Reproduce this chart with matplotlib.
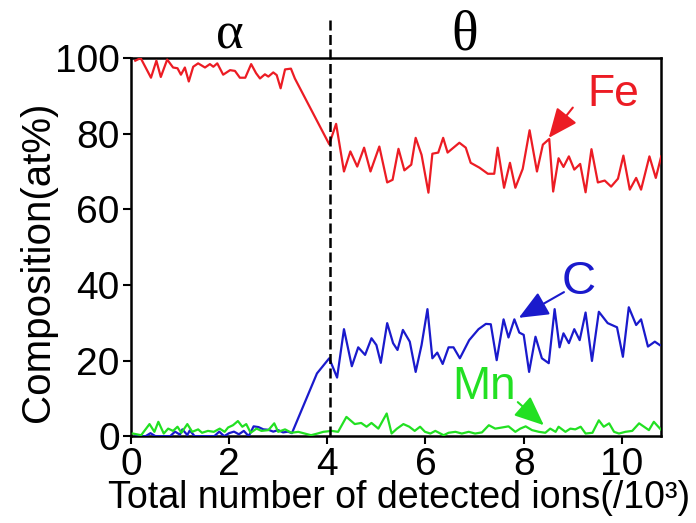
import matplotlib
matplotlib.use("Agg")
import matplotlib.pyplot as plt

fe_x = [0.09,0.2,0.41,0.52,0.61,0.74,0.86,0.95,1.02,1.1,1.18,1.27,1.37,1.51,1.61,1.68,1.76,1.88,2.02,2.12,
        2.22,2.33,2.45,2.55,2.63,2.73,2.8,2.9,2.97,3.05,3.14,3.26,3.34,4.04,4.18,4.34,4.47,4.61,4.75,4.88,
        5.06,5.22,5.33,5.45,5.57,5.71,5.8,5.92,6.06,6.14,6.26,6.36,6.45,6.57,6.69,6.82,6.92,7.1,7.27,7.4,
        7.47,7.6,7.72,7.83,7.98,8.12,8.27,8.39,8.52,8.6,8.71,8.81,8.92,9.03,9.15,9.26,9.38,9.51,9.65,9.78,
        9.92,10.03,10.16,10.29,10.39,10.56,10.69,10.8]
fe_y = [99.3,100,94.8,99.3,95,99.6,97.5,97.3,95.6,97.5,93.8,97.7,98.6,97.5,98.4,97.7,98.6,95.6,96.8,96.6,
        94.8,94.8,98.4,96,94.6,95.7,95.1,96.2,95.5,92,97,97.2,94.6,77.2,82.6,70,75.3,71.3,76.3,70,
        76.6,67.1,67.8,76,70.3,71.8,78.9,74.4,64.4,74.7,75,78.9,75,76.3,77.6,76.3,72.3,71,69.4,69.4,
        76.3,65.7,72.3,65.7,70.7,80.9,70,77.1,78.6,64.7,73.5,71.2,74,70.5,72,64.5,75.9,67.1,67.6,66,
        68.1,74.2,65.2,68.3,65.2,74,68.3,74]

c_x = [0.1,0.2,0.3,0.4,0.5,0.6,0.7,0.8,0.9,1.0,1.05,1.15,1.2,1.3,1.4,1.5,1.6,1.7,1.8,1.9,
       2.0,2.1,2.2,2.3,2.4,2.5,2.6,2.7,2.8,2.9,3.0,3.1,3.2,3.28,
       3.79,4.04,4.2,4.34,4.5,4.63,4.77,4.9,5.0,5.09,5.22,5.34,5.43,5.54,5.68,5.8,5.92,6.04,6.14,6.24,
       6.35,6.47,6.57,6.7,6.89,7.08,7.23,7.33,7.45,7.59,7.69,7.81,7.91,8.0,8.11,8.24,8.37,8.51,8.63,8.73,
       8.81,8.92,9.03,9.14,9.26,9.39,9.53,9.71,9.9,10.02,10.14,10.29,10.39,10.53,10.67,10.77]
c_y = [0,0,0,0.8,0,0,0,0,1.2,0.4,1.8,0.3,1.5,0,0,0,0,0,1.2,0,
       0.8,1.2,0.5,1.4,0,2.6,2.4,1.8,1.7,1.2,1.6,1.0,1.2,0.8,
       16.6,20.6,15.5,28.3,18.5,23.5,21.5,25.9,24.1,19.4,29.9,24.6,22.8,28.1,25,17,24.1,33.6,20.6,22.1,
       19.1,23.5,23.5,20.6,25.4,28.3,29.7,29.6,20.1,30.9,26.1,30.9,27.4,26.8,17,26.3,20.6,19.3,33.6,23.5,
       27.2,24.6,28.3,25.4,32.7,19.9,32.9,29.9,28.8,21,34.1,29.4,30.9,23.7,25,24.1]

mn_x = [0.04,0.21,0.38,0.48,0.56,0.67,0.76,0.86,0.95,1.03,1.15,1.25,1.37,1.45,1.57,1.69,1.81,1.91,1.98,2.08,
        2.18,2.27,2.35,2.44,2.56,2.66,2.80,2.92,3.00,3.14,3.27,3.41,3.54,3.67,3.80,3.92,4.09,4.22,4.39,4.56,
        4.69,4.80,4.90,5.04,5.21,5.31,5.42,5.55,5.67,5.78,5.89,5.99,6.10,6.20,6.37,6.47,6.61,6.74,6.88,7.01,
        7.15,7.29,7.42,7.56,7.69,7.83,7.93,8.04,8.17,8.31,8.44,8.54,8.65,8.71,8.85,8.95,9.05,9.16,9.26,9.40,
        9.53,9.63,9.74,9.84,9.94,10.07,10.21,10.35,10.45,10.55,10.65,10.79]
mn_y = [0.7,0.26,3.2,1.15,3.8,0.7,2.0,1.4,2.5,0.9,3.2,1.15,1.8,0.9,1.4,1.15,2.0,1.15,2.3,2.9,
        4.0,2.5,3.2,0.9,2.0,1.4,1.6,3.4,1.15,1.8,0.9,1.15,0.7,0.26,0.7,1.15,1.4,1.15,5.1,3.2,
        3.5,2.5,3.5,2.0,6.0,0.7,2.0,3.2,2.5,1.4,2.5,1.15,0.7,1.4,0.26,0.9,1.15,0.7,1.15,0.7,
        1.0,2.9,2.0,2.3,2.6,1.15,2.0,2.6,1.6,1.15,0.9,2.0,1.15,2.5,1.15,2.0,1.8,2.5,0.7,0.9,
        4.2,2.5,3.4,1.15,0.7,1.15,1.4,3.4,2.5,1.6,3.8,1.8]

x_ticks = [0, 2, 4, 6, 8, 10]
y_ticks = [0, 20, 40, 60, 80, 100]
boundary_x = 4.05

RED = '#ec1c24'
BLUE = '#1a1acc'
GREEN = '#22e022'

plt.rcParams['font.family'] = ['Liberation Sans', 'DejaVu Sans']

fig = plt.figure(figsize=(6.96, 5.23), dpi=100)
ax = fig.add_axes([0.188, 0.166, 0.762, 0.723])

lw = 1.6
ax.plot(c_x, c_y, color=BLUE, lw=lw, zorder=3)
ax.plot(mn_x, mn_y, color=GREEN, lw=lw, zorder=4)
ax.plot(fe_x, fe_y, color=RED, lw=lw, zorder=3)

ax.plot([boundary_x, boundary_x], [0, 111], color='black', lw=1.8,
        linestyle=(0, (4, 1.8)), clip_on=False, zorder=5)

ax.set_xlim(0, 10.8)
ax.set_ylim(0, 100)
ax.set_xticks(x_ticks)
ax.set_yticks(y_ticks)
ax.tick_params(direction='out', length=6, width=1.5, pad=2, labelsize=28)
for s in ax.spines.values():
    s.set_linewidth(1.8)

ax.set_ylabel('Composition(at%)', fontsize=29)
ax.yaxis.set_label_coords(-0.14, 0.46)
ax.set_xlabel('Total number of detected ions(/10³)', fontsize=27)
ax.xaxis.set_label_coords(0.505, -0.115)

serif = ['Liberation Serif', 'DejaVu Serif']
ax.text(2.02, 106, 'α', fontsize=38, family=serif, ha='center', va='center', clip_on=False)
ax.text(6.8, 106, 'θ', fontsize=40, family=serif, ha='center', va='center', clip_on=False)

ax.text(9.82, 90.3, 'Fe', color=RED, fontsize=32, ha='center', va='center')
ax.text(9.12, 40.8, 'C', color=BLUE, fontsize=34, ha='center', va='center')
ax.text(7.2, 13.0, 'Mn', color=GREEN, fontsize=33, ha='center', va='center')

ap = dict(arrowstyle='-|>,head_length=0.7,head_width=0.3', lw=1.5, mutation_scale=26, shrinkA=0, shrinkB=0)
ax.annotate('', xy=(8.51, 78.9), xytext=(9.0, 86.9), arrowprops=dict(color=RED, **ap))
ax.annotate('', xy=(7.9, 31.3), xytext=(8.82, 38.1), arrowprops=dict(color=BLUE, **ap))
ax.annotate('', xy=(8.41, 2.9), xytext=(7.88, 9.0), arrowprops=dict(color=GREEN, **ap))

fig.savefig('out.png', dpi=100)
